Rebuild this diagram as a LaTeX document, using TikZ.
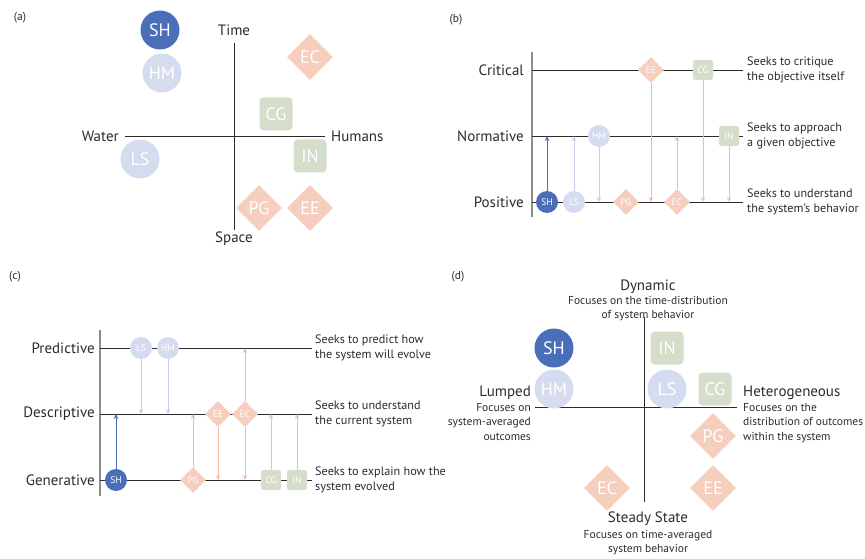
\documentclass[tikz,border=0pt]{standalone}
\usepackage{fontspec}
\setmainfont{PT Sans}
\usetikzlibrary{shapes.geometric,arrows.meta}
\definecolor{ink}{HTML}{2B2B2B}
\definecolor{shblue}{HTML}{4A6FB8}
\definecolor{lav}{HTML}{D6DCF0}
\definecolor{lavarr}{HTML}{C6CFEC}
\definecolor{salmon}{HTML}{F6CEBD}
\definecolor{salarr}{HTML}{F2B7A1}
\definecolor{sage}{HTML}{D4DECB}
\definecolor{sagearr}{HTML}{C3D1B8}
\begin{document}
\begin{tikzpicture}[x=1pt,y=-1pt,line join=round,>={Stealth[length=5pt,width=4.5pt]},
	txt/.style={text=ink,font=\fontsize{15}{17}\selectfont,inner sep=0pt},
	tag/.style={text=ink,font=\fontsize{11.5}{13}\selectfont,inner sep=0pt},
	note/.style={text=ink,font=\fontsize{12.2}{14.5}\selectfont,align=left,anchor=west,inner sep=0pt},
	dnote/.style={text=ink,font=\fontsize{11.5}{14.5}\selectfont,inner sep=0pt},
	axis/.style={draw=ink,line width=0.9pt},
	side/.style={draw=black!45,line width=1.6pt},
	big/.style={inner sep=0pt,text=white,font=\fontsize{18}{18}\selectfont},
	small/.style={inner sep=0pt,text=white,font=\fontsize{9.5}{10}\selectfont},
	bc/.style={big,circle,minimum size=39pt},
	bs/.style={big,rectangle,rounded corners=4pt,minimum size=33pt},
	bd/.style={big,diamond,minimum size=46pt},
	sc/.style={small,circle,minimum size=22pt},
	ss/.style={small,rectangle,rounded corners=2.5pt,minimum size=20pt},
	sd/.style={small,diamond,minimum size=26pt},
	arr/.style={->,line width=0.8pt}]
	\useasboundingbox (0,0) rectangle (865,559);
	
	% (a)
	\node[tag] (aLab) at (20,18) {(a)};
	\coordinate (aT) at (234,43); \coordinate (aB) at (234,230);
	\coordinate (aL) at (125,136); \coordinate (aR) at (325,136);
	\draw[axis] (aT)--(aB);
	\draw[axis] (aL)--(aR);
	\node[txt,above=7pt] (aTime) at (aT) {Time};
	\node[txt,below=2pt] (aSpace) at (aB) {Space};
	\node[txt,left=6pt] (aWater) at (aL) {Water};
	\node[txt,right=6pt] (aHum) at (aR) {Humans};
	\node[bc,fill=shblue] (aSH) at (160,30) {SH};
	\node[bc,fill=lav] (aHM) at (162,73) {HM};
	\node[bc,fill=lav] (aLS) at (140,159) {LS};
	\node[bs,fill=sage] (aCG) at (276,114) {CG};
	\node[bs,fill=sage] (aIN) at (310,156) {IN};
	\node[bd,fill=salmon] (aEC) at (310,57) {EC};
	\node[bd,fill=salmon] (aPG) at (259,208) {PG};
	\node[bd,fill=salmon] (aEE) at (310,208) {EE};
	
	% (b)
	\node[tag] (bLab) at (456,20) {(b)};
	\coordinate (bC) at (532,70); \coordinate (bN) at (532,136); \coordinate (bP) at (532,202);
	\draw[side] (532,52)--(532,217);
	\foreach \c in {bC,bN,bP}{
		\draw[axis] (\c)--++(211,0);
	}
	\node[txt,anchor=east] (bCrit) at (524,70) {Critical};
	\node[txt,anchor=east] (bNorm) at (524,136) {Normative};
	\node[txt,anchor=east] (bPos) at (524,202) {Positive};
	\node[note] (bCn) at (747,70) {Seeks to critique\\the objective itself};
	\node[note] (bNn) at (747,136) {Seeks to approach\\a given objective};
	\node[note] (bPn) at (747,202) {Seeks to understand\\the system’s behavior};
	\node[sc,fill=shblue] (bSH) at (547,202) {SH};
	\node[sc,fill=lav] (bLS) at (574,202) {LS};
	\node[sc,fill=lav] (bHM) at (599,136) {HM};
	\node[sd,fill=salmon] (bPG) at (626,202) {PG};
	\node[sd,fill=salmon] (bEE) at (651,70) {EE};
	\node[sd,fill=salmon] (bEC) at (677,202) {EC};
	\node[ss,fill=sage] (bCG) at (703,70) {CG};
	\node[ss,fill=sage] (bIN) at (729,136) {IN};
	\draw[arr,shblue] (bSH)--(bSH|-bN);
	\draw[arr,lavarr] (bLS)--(bLS|-bN);
	\draw[arr,lavarr] (bHM)--(bHM|-bP);
	\draw[arr,salarr] (bEE)--(bEE|-bP);
	\draw[arr,salarr] (bEC)--(bEC|-bN);
	\draw[arr,sagearr] (bCG)--(bCG|-bP);
	\draw[arr,sagearr] (bIN)--(bIN|-bP);
	
	% (c)
	\node[tag] (cLab) at (15,277) {(c)};
	\coordinate (cP) at (100,348); \coordinate (cD) at (100,414); \coordinate (cG) at (100,480);
	\draw[side] (100,330)--(100,496);
	\foreach \c in {cP,cD,cG}{
		\draw[axis] (\c)--++(212,0);
	}
	\node[txt,anchor=east] (cPred) at (95,348) {Predictive};
	\node[txt,anchor=east] (cDesc) at (95,414) {Descriptive};
	\node[txt,anchor=east] (cGen) at (95,480) {Generative};
	\node[note] (cPn) at (315,348) {Seeks to predict how\\the system will evolve};
	\node[note] (cDn) at (315,414) {Seeks to understand\\the current system};
	\node[note] (cGn) at (315,480) {Seeks to explain how the\\system evolved};
	\node[sc,fill=shblue] (cSH) at (116,480) {SH};
	\node[sc,fill=lav] (cLS) at (141,348) {LS};
	\node[sc,fill=lav] (cHM) at (168,348) {HM};
	\node[sd,fill=salmon] (cPG) at (193,480) {PG};
	\node[sd,fill=salmon] (cEE) at (218,414) {EE};
	\node[sd,fill=salmon] (cEC) at (245,414) {EC};
	\node[ss,fill=sage] (cCG) at (271,480) {CG};
	\node[ss,fill=sage] (cIN) at (297,480) {IN};
	\draw[arr,shblue] (cSH)--(cSH|-cD);
	\draw[arr,lavarr] (cLS)--(cLS|-cD);
	\draw[arr,lavarr] (cHM)--(cHM|-cD);
	\draw[arr,salarr] (cPG)--(cPG|-cD);
	\draw[arr,salarr] (cEE)--(cEE|-cG);
	\draw[arr,salarr] (cEC)--(cEC|-cP);
	\draw[arr,salarr] (cEC)--(cEC|-cG);
	\draw[arr,sagearr] (cCG)--(cCG|-cD);
	\draw[arr,sagearr] (cIN)--(cIN|-cD);
	
	% (d)
	\node[tag] (dLab) at (458,277) {(d)};
	\coordinate (dT) at (644,317); \coordinate (dB) at (644,502);
	\coordinate (dL) at (535,407); \coordinate (dR) at (737,407);
	\draw[axis] (dT)--(dB);
	\draw[axis] (dL)--(dR);
	\node[txt] (dDyn) at (648,287) {Dynamic};
	\node[dnote,align=center,anchor=north] (dDynn) at (648,296) {Focuses on the time-distribution\\of system behavior};
	\node[txt] (dSteady) at (648,519) {Steady State};
	\node[dnote,align=center,anchor=north] (dSteadyn) at (648,530) {Focuses on time-averaged\\system behavior};
	\node[txt,anchor=east] (dLump) at (531,393) {Lumped};
	\node[dnote,align=right,anchor=north east] (dLumpn) at (531,403) {Focuses on\\system-averaged\\outcomes};
	\node[txt,anchor=west] (dHet) at (743,393) {Heterogeneous};
	\node[dnote,align=left,anchor=north west] (dHetn) at (743,403) {Focuses on the\\distribution of outcomes\\within the system};
	\node[bc,fill=shblue] (dSH) at (554,348) {SH};
	\node[bc,fill=lav] (dHM) at (554,389) {HM};
	\node[bc,fill=lav] (dLS) at (667,389) {LS};
	\node[bs,fill=sage] (dIN) at (667,348) {IN};
	\node[bs,fill=sage] (dCG) at (715,389) {CG};
	\node[bd,fill=salmon] (dPG) at (713,436) {PG};
	\node[bd,fill=salmon] (dEC) at (607,488) {EC};
	\node[bd,fill=salmon] (dEE) at (713,488) {EE};
\end{tikzpicture}
\end{document}
